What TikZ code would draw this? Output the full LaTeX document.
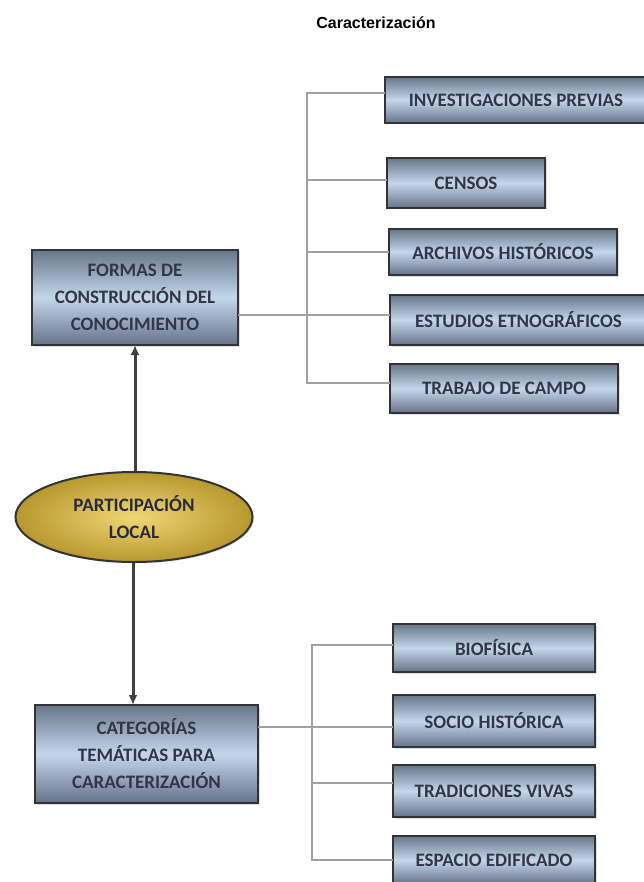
\documentclass[tikz,border=0pt]{standalone}
\usepackage{fontspec}
\setmainfont{Carlito}
\newfontfamily\titlefont{Liberation Sans}
\usetikzlibrary{shadows,shapes.geometric,arrows.meta}
\definecolor{boxtop}{HTML}{66778A}
\definecolor{boxmid}{HTML}{C4D6EA}
\definecolor{boxbot}{HTML}{65738A}
\definecolor{boxline}{HTML}{333336}
\definecolor{boxtext}{HTML}{33364A}
\definecolor{connline}{HTML}{A0A0A0}
\definecolor{arrline}{HTML}{404040}
\definecolor{goldin}{HTML}{F0D676}
\definecolor{goldout}{HTML}{B8982E}
\tikzset{
  bx/.style={draw=boxline, line width=2.2pt, rectangle, anchor=north west,
    top color=boxtop, bottom color=boxbot, middle color=boxmid,
    inner sep=0pt, outer sep=0pt, text=boxtext,
    font=\bfseries\fontsize{19}{21}\selectfont, align=center,
    drop shadow={opacity=0.25, shadow xshift=1.5pt, shadow yshift=-1.5pt}},
  bigbx/.style={bx, font=\bfseries\fontsize{19}{27}\selectfont},
  conn/.style={draw=connline, line width=1.5pt},
  arr/.style={draw=arrline, line width=3pt, -{Latex[length=10pt,width=9pt]}},
}
\begin{document}
\begin{tikzpicture}[x=1pt,y=-1pt]
\useasboundingbox (0,0) rectangle (643,882);
\node[font=\titlefont\bfseries\fontsize{16}{18}\selectfont, anchor=center] (title) at (376,23) {Caracterización};

% left column
\node[bigbx, minimum width=206pt, minimum height=95pt] (formas) at (32,250) {FORMAS DE\\CONSTRUCCIÓN DEL\\CONOCIMIENTO};
\node[draw=boxline, line width=2pt, ellipse, minimum width=237pt, minimum height=90pt,
  inner color=goldin, outer color=goldout, text=boxtext!80!black, align=center, inner sep=0pt,
  font=\bfseries\fontsize{19}{27}\selectfont,
  drop shadow={opacity=0.25, shadow xshift=1.5pt, shadow yshift=-1.5pt}] (part) at (134,517) {PARTICIPACIÓN\\LOCAL};
\node[bigbx, minimum width=223pt, minimum height=98pt] (categ) at (35,705) {CATEGORÍAS\\TEMÁTICAS PARA\\CARACTERIZACIÓN};

% top-right boxes
\node[bx, minimum width=262pt, minimum height=46pt] (inv) at (385,77) {INVESTIGACIONES PREVIAS};
\node[bx, minimum width=158pt, minimum height=50pt] (cen) at (387,158) {CENSOS};
\node[bx, minimum width=228pt, minimum height=46pt] (arc) at (389,229) {ARCHIVOS HISTÓRICOS};
\node[bx, minimum width=257pt, minimum height=50pt] (est) at (390,295) {ESTUDIOS ETNOGRÁFICOS};
\node[bx, minimum width=228pt, minimum height=49pt] (tra) at (390,364) {TRABAJO DE CAMPO};

% bottom-right boxes
\node[bx, minimum width=202pt, minimum height=48pt] (bio) at (393,624) {BIOFÍSICA};
\node[bx, minimum width=202pt, minimum height=52pt] (soc) at (393,695) {SOCIO HISTÓRICA};
\node[bx, minimum width=202pt, minimum height=52pt] (tra2) at (393,765) {TRADICIONES VIVAS};
\node[bx, minimum width=202pt, minimum height=48pt] (esp) at (393,836) {ESPACIO EDIFICADO};

% top connectors
\coordinate (s1) at (307,93);
\coordinate (s2) at (307,180);
\coordinate (s3) at (307,252);
\coordinate (s4) at (307,315);
\coordinate (s5) at (307,383);
\draw[conn] (inv.west |- s1) -- (s1) -- (s5) -- (tra.west |- s5);
\draw[conn] (s2) -- (cen.west |- s2);
\draw[conn] (s3) -- (arc.west |- s3);
\draw[conn] (formas.east |- s4) -- (est.west |- s4);

% bottom connectors
\coordinate (b1) at (312,645);
\coordinate (b2) at (312,727);
\coordinate (b3) at (312,783);
\coordinate (b4) at (312,860);
\draw[conn] (bio.west |- b1) -- (b1) -- (b4) -- (esp.west |- b4);
\draw[conn] (categ.east |- b2) -- (soc.west |- b2);
\draw[conn] (b3) -- (tra2.west |- b3);

% arrows
\draw[arr] (part.north -| 135,0) -- (formas.south -| 135,0);
\draw[arr] (part.south -| 133,0) -- (categ.north -| 133,0);
\end{tikzpicture}
\end{document}
